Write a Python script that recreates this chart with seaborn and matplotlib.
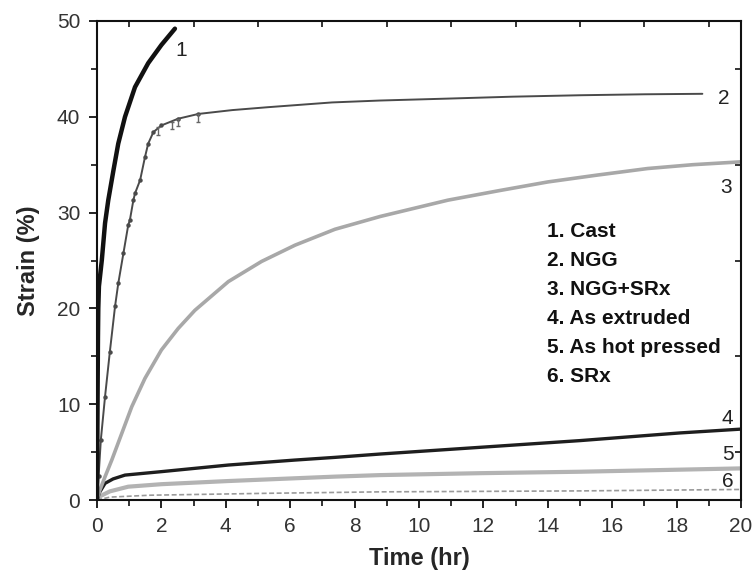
import numpy as np
import pandas as pd
import seaborn as sns
import matplotlib
matplotlib.use("Agg")
import matplotlib.pyplot as plt
from matplotlib.ticker import MultipleLocator, FixedLocator, NullFormatter

# ---- data ----
cast_t = [0, 0.01, 0.02, 0.03, 0.04, 0.06, 0.15, 0.25, 0.35, 0.51, 0.66, 0.87, 1.18, 1.59, 2.0, 2.42]
cast_s = [0, 6, 12, 17, 20, 22.3, 25.05, 28.9, 31.3, 34.4, 37.2, 40.0, 43.1, 45.6, 47.5, 49.2]

ngg_t = [0, 0.05, 0.12, 0.25, 0.4, 0.56, 0.66, 0.82, 0.97, 1.02, 1.13, 1.18, 1.34, 1.49,
         1.59, 1.75, 2.0, 2.52, 3.15, 4.2, 5.3, 7.3, 8.8, 10.9, 12.9, 15, 17, 18.8]
ngg_s = [0, 2.5, 6.3, 10.8, 15.5, 20.2, 22.6, 25.75, 28.7, 29.2, 31.3, 32.0, 33.4, 35.8,
         37.2, 38.4, 39.1, 39.8, 40.3, 40.7, 41.0, 41.5, 41.7, 41.9, 42.1, 42.25, 42.35, 42.4]

nggsrx_t = [0, 0.09, 0.25, 0.46, 0.77, 1.08, 1.49, 2.0, 2.52, 3.04, 4.08, 5.11, 6.15,
            7.39, 8.8, 10.9, 12.5, 14, 15.5, 17.1, 18.5, 20]
nggsrx_s = [0, 1.04, 2.43, 4.18, 6.96, 9.74, 12.7, 15.66, 17.9, 19.8, 22.8, 24.9, 26.6,
            28.26, 29.6, 31.3, 32.3, 33.2, 33.9, 34.6, 35.0, 35.3]

ext_t = [0, 0.08, 0.25, 0.5, 0.87, 2.0, 4.08, 6.15, 7.39, 8.8, 11.9, 15, 18.1, 20]
ext_s = [0, 0.8, 1.74, 2.2, 2.6, 2.96, 3.65, 4.17, 4.45, 4.8, 5.5, 6.2, 7.0, 7.4]

hp_t = [0, 0.1, 0.4, 0.97, 2.0, 4.08, 7.39, 8.8, 11.9, 15, 20]
hp_s = [0, 0.4, 0.9, 1.39, 1.65, 1.98, 2.44, 2.6, 2.8, 2.95, 3.3]

srx_t = [0, 0.4, 1.65, 5.3, 8.8, 15, 20]
srx_s = [0, 0.3, 0.5, 0.7, 0.85, 0.95, 1.1]

# small error-bar like marks hanging below NGG curve
eb_t = [1.9, 2.33, 2.52, 3.15]
eb_s = [38.9, 39.5, 39.8, 40.3]

curve_labels = ["1", "2", "3", "4", "5", "6"]
curve_label_x = [2.42, 19.29, 19.35, 19.4, 19.4, 19.4]
curve_label_y = [46.35, 41.3, 32.0, 7.9, 4.2, 1.36]

legend_labels = ["1. Cast", "2. NGG", "3. NGG+SRx", "4. As extruded",
                 "5. As hot pressed", "6. SRx"]
legend_y = [27.45, 24.43, 21.4, 18.37, 15.34, 12.32]

x_ticks = list(range(0, 21, 2))
y_ticks = list(range(0, 51, 10))

# ---- style ----
sns.set_style("ticks")
plt.rcParams['font.family'] = ['Liberation Sans', 'DejaVu Sans']

fig = plt.figure(figsize=(7.53, 5.71), dpi=100)
ax = fig.add_axes([97/753, 1-500/571, (741-97)/753, (500-21)/571])

sns.lineplot(x=srx_t, y=srx_s, ax=ax, color="#9a9a9a", lw=1.2, linestyle=(0, (3, 1.5)),
             sort=False, estimator=None)
sns.lineplot(x=hp_t, y=hp_s, ax=ax, color="#b3b3b3", lw=3.0, sort=False, estimator=None)
sns.lineplot(x=ext_t, y=ext_s, ax=ax, color="#1e1e1e", lw=2.4, sort=False, estimator=None)
sns.lineplot(x=nggsrx_t, y=nggsrx_s, ax=ax, color="#a8a8a8", lw=2.6, sort=False, estimator=None)
ngg_marks = [i for i, t in enumerate(ngg_t) if 0 < t < 3.3]
sns.lineplot(x=ngg_t, y=ngg_s, ax=ax, color="#4a4a4a", lw=1.4, marker="o", markersize=3.2,
             markeredgewidth=0, markevery=ngg_marks, sort=False, estimator=None)
sns.lineplot(x=cast_t, y=cast_s, ax=ax, color="#111111", lw=3.2, sort=False, estimator=None)

ax.errorbar(eb_t, eb_s, yerr=[[0.8]*len(eb_t), [0]*len(eb_t)], fmt="none",
            ecolor="#666666", elinewidth=1.0, capsize=1.5)

for lab, lx, ly in zip(curve_labels, curve_label_x, curve_label_y):
    ax.text(lx, ly, lab, fontsize=15, color="#222222", ha="left", va="baseline")

for lab, ly in zip(legend_labels, legend_y):
    ax.text(13.98, ly, lab, fontsize=15, fontweight="bold", color="#111111",
            ha="left", va="baseline")

ax.set_xlim(0, 20)
ax.set_ylim(0, 50)
ax.xaxis.set_major_locator(FixedLocator(x_ticks))
ax.yaxis.set_major_locator(FixedLocator(y_ticks))
ax.xaxis.set_minor_locator(MultipleLocator(1))
ax.yaxis.set_minor_locator(MultipleLocator(5))
ax.tick_params(axis="both", which="major", direction="out", length=6, width=1.3,
               labelsize=15, labelcolor="#333333", color="#111111")
ax.tick_params(axis="x", which="major", pad=6)
ax.tick_params(axis="y", which="major", pad=6)
ax.tick_params(axis="both", which="minor", direction="out", length=4, width=1.2, color="#111111")

for sp in ax.spines.values():
    sp.set_visible(True)
    sp.set_linewidth(1.5)
    sp.set_color("#111111")

# top / right minor ticks pointing inward
sec_x = ax.secondary_xaxis("top")
sec_x.set_xticks([1, 3, 5, 7, 9, 11, 13, 15, 17, 19])
sec_x.xaxis.set_major_formatter(NullFormatter())
sec_x.tick_params(direction="in", length=4, width=1.2, color="#111111")
sec_x.spines["top"].set_visible(False)
sec_y = ax.secondary_yaxis("right")
sec_y.set_yticks([5, 15, 25, 35, 45])
sec_y.yaxis.set_major_formatter(NullFormatter())
sec_y.tick_params(direction="in", length=4, width=1.2, color="#111111")
sec_y.spines["right"].set_visible(False)

ax.set_xlabel("Time (hr)", fontsize=17, fontweight="bold", labelpad=8)
ax.set_ylabel("Strain (%)", fontsize=17, fontweight="bold", labelpad=12)

fig.savefig("out.png", dpi=100)
